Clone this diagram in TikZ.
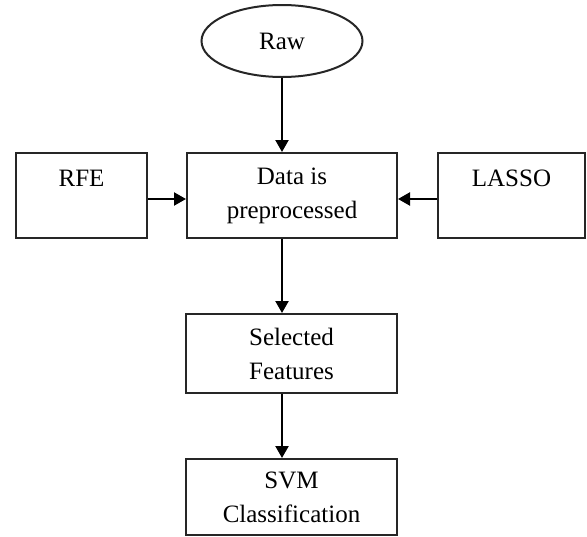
\documentclass[tikz,border=0pt]{standalone}
\usepackage{fontspec}
\setmainfont{Liberation Serif}
\usetikzlibrary{shapes.geometric,arrows.meta}
\colorlet{lcol}{black!85}
\tikzstyle{box}=[rectangle, draw=lcol, line width=1pt, align=center, inner sep=0pt, font=\fontsize{12.5}{17}\selectfont]
\tikzstyle{oval}=[ellipse, draw=lcol, line width=1pt, inner sep=0pt, minimum width=80.5pt, minimum height=36pt, font=\fontsize{12.5}{17}\selectfont]
\tikzstyle{flow}=[line width=1.1pt, black, -{Triangle[length=6pt,width=6.5pt]}]

\begin{document}
\begin{tikzpicture}[x=0.5pt, y=-0.5pt]
			\useasboundingbox (0,0) rectangle (587,536);
			\node[oval] (raw) at (282, 41) {Raw};
			\node[box, minimum width=105pt, minimum height=42.5pt] (data) at (292, 195.5) {Data is\\preprocessed};
			\node[box, minimum width=65.5pt, minimum height=42.5pt] (rfe) at (81.5, 195.5) {RFE\\\mbox{}};
			\node[box, minimum width=73.5pt, minimum height=42.5pt] (lasso) at (511.5, 195.5) {LASSO\\\mbox{}};
			\node[box, minimum width=105.5pt, minimum height=39.5pt] (sel) at (291.5, 353.5) {Selected\\Features};
			\node[box, minimum width=105.5pt, minimum height=38pt] (svm) at (291.5, 497) {SVM\\Classification};

			% Vertical flow
			\draw[flow] (raw.south) -- (raw.south |- data.north);
			\draw[flow] (data.south -| raw.south) -- (sel.north -| raw.south);
			\draw[flow] (sel.south -| raw.south) -- (svm.north -| raw.south);
			% Side inputs
			\draw[flow] ([yshift=-1.75pt]rfe.east) -- ([yshift=-1.75pt]data.west);
			\draw[flow] ([yshift=-1.75pt]lasso.west) -- ([yshift=-1.75pt]data.east);
		\end{tikzpicture}
\end{document}
